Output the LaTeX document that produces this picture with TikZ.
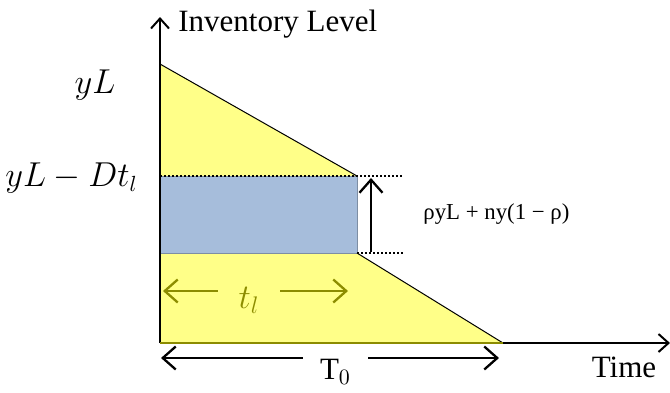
\documentclass[tikz,border=0pt]{standalone}
\usepackage{fontspec}
\setmainfont{Liberation Serif}
\usetikzlibrary{arrows.meta}
\definecolor{stockyellow}{HTML}{FFFF88}
\definecolor{stockblue}{HTML}{A6BDDB}
\definecolor{spanolive}{HTML}{8C8C00}

\begin{document}
\begin{tikzpicture}[x=0.5pt,y=-0.5pt,
  axis/.style={line width=1pt,-{Straight Barb[length=5pt,width=9pt]}},
  span/.style={line width=1.15pt,-{Straight Barb[length=6.5pt,width=11.5pt]}},
  dots/.style={line width=1.1pt,dash pattern=on 1pt off 1pt},
  lbl/.style={inner sep=0pt,font=\fontsize{15.5}{18}\selectfont}]
\useasboundingbox (0,0) rectangle (670,392);
% corners of the stock curve
\coordinate (O) at (160,343);
\coordinate (top) at (160,17);
\coordinate (end) at (670,343);
\coordinate (A) at (160,64);
\coordinate (P) at (160,176);
\coordinate (B) at (357,176);
\coordinate (Q) at (160,253);
\coordinate (C) at (357,253);
\coordinate (D) at (503,343);
\coordinate (Bx) at (403,176);
\coordinate (Cx) at (403,253);
\fill[stockyellow] (A)--(B)--(P)--cycle;
\fill[stockyellow] (Q)--(C)--(D)--(O)--cycle;
\filldraw[fill=stockblue,draw=stockblue!75!black,line width=0.4pt] (P) rectangle (C);
\draw[line width=0.5pt] (A)--(B);
\draw[line width=0.5pt] (C)--(D);
\draw[dots] (P)--(Bx);
\draw[dots] (C)--(Cx);
% axes
\draw[axis] (O)--(top);
\draw[axis] (O)--(end);
\draw[spanolive,line width=1pt] (O)--(D);
% labels
\node[lbl,anchor=west] (ylab) at (178,24) {Inventory Level};
\node[lbl] (time) at (624,367) {Time};
\node[lbl,font=\fontsize{17}{20}\selectfont] (yl) at (95,85) {$yL$};
\node[lbl,font=\fontsize{16}{20}\selectfont,anchor=west] (yld) at (5,178) {$yL-Dt_l$};
\node[inner sep=0pt,font=\fontsize{11.4}{13}\selectfont,anchor=west] (gap) at (423,214) {ρyL + ny(1 − ρ)};
\node[lbl,text=spanolive,minimum width=31pt,font=\fontsize{17}{20}\selectfont] (tl) at (249,300) {$t_l$};
\node[lbl,minimum width=32.5pt] (T0) at (335.5,372) {T$_0$};
% span arrows
\coordinate (h1) at (371,178);
\coordinate (h2) at (371,252);
\draw[span,{Straight Barb[length=6.5pt,width=11.5pt]}-] (h1)--(h2);
\coordinate (tlL) at (163,291);
\coordinate (tlR) at (348,291);
\draw[span,spanolive] (tl.west|-tlL)--(tlL);
\draw[span,spanolive] (tl.east|-tlR)--(tlR);
\coordinate (T0L) at (161,358);
\coordinate (T0R) at (499,358);
\draw[span] (T0.west|-T0L)--(T0L);
\draw[span] (T0.east|-T0R)--(T0R);
\end{tikzpicture}
\end{document}
